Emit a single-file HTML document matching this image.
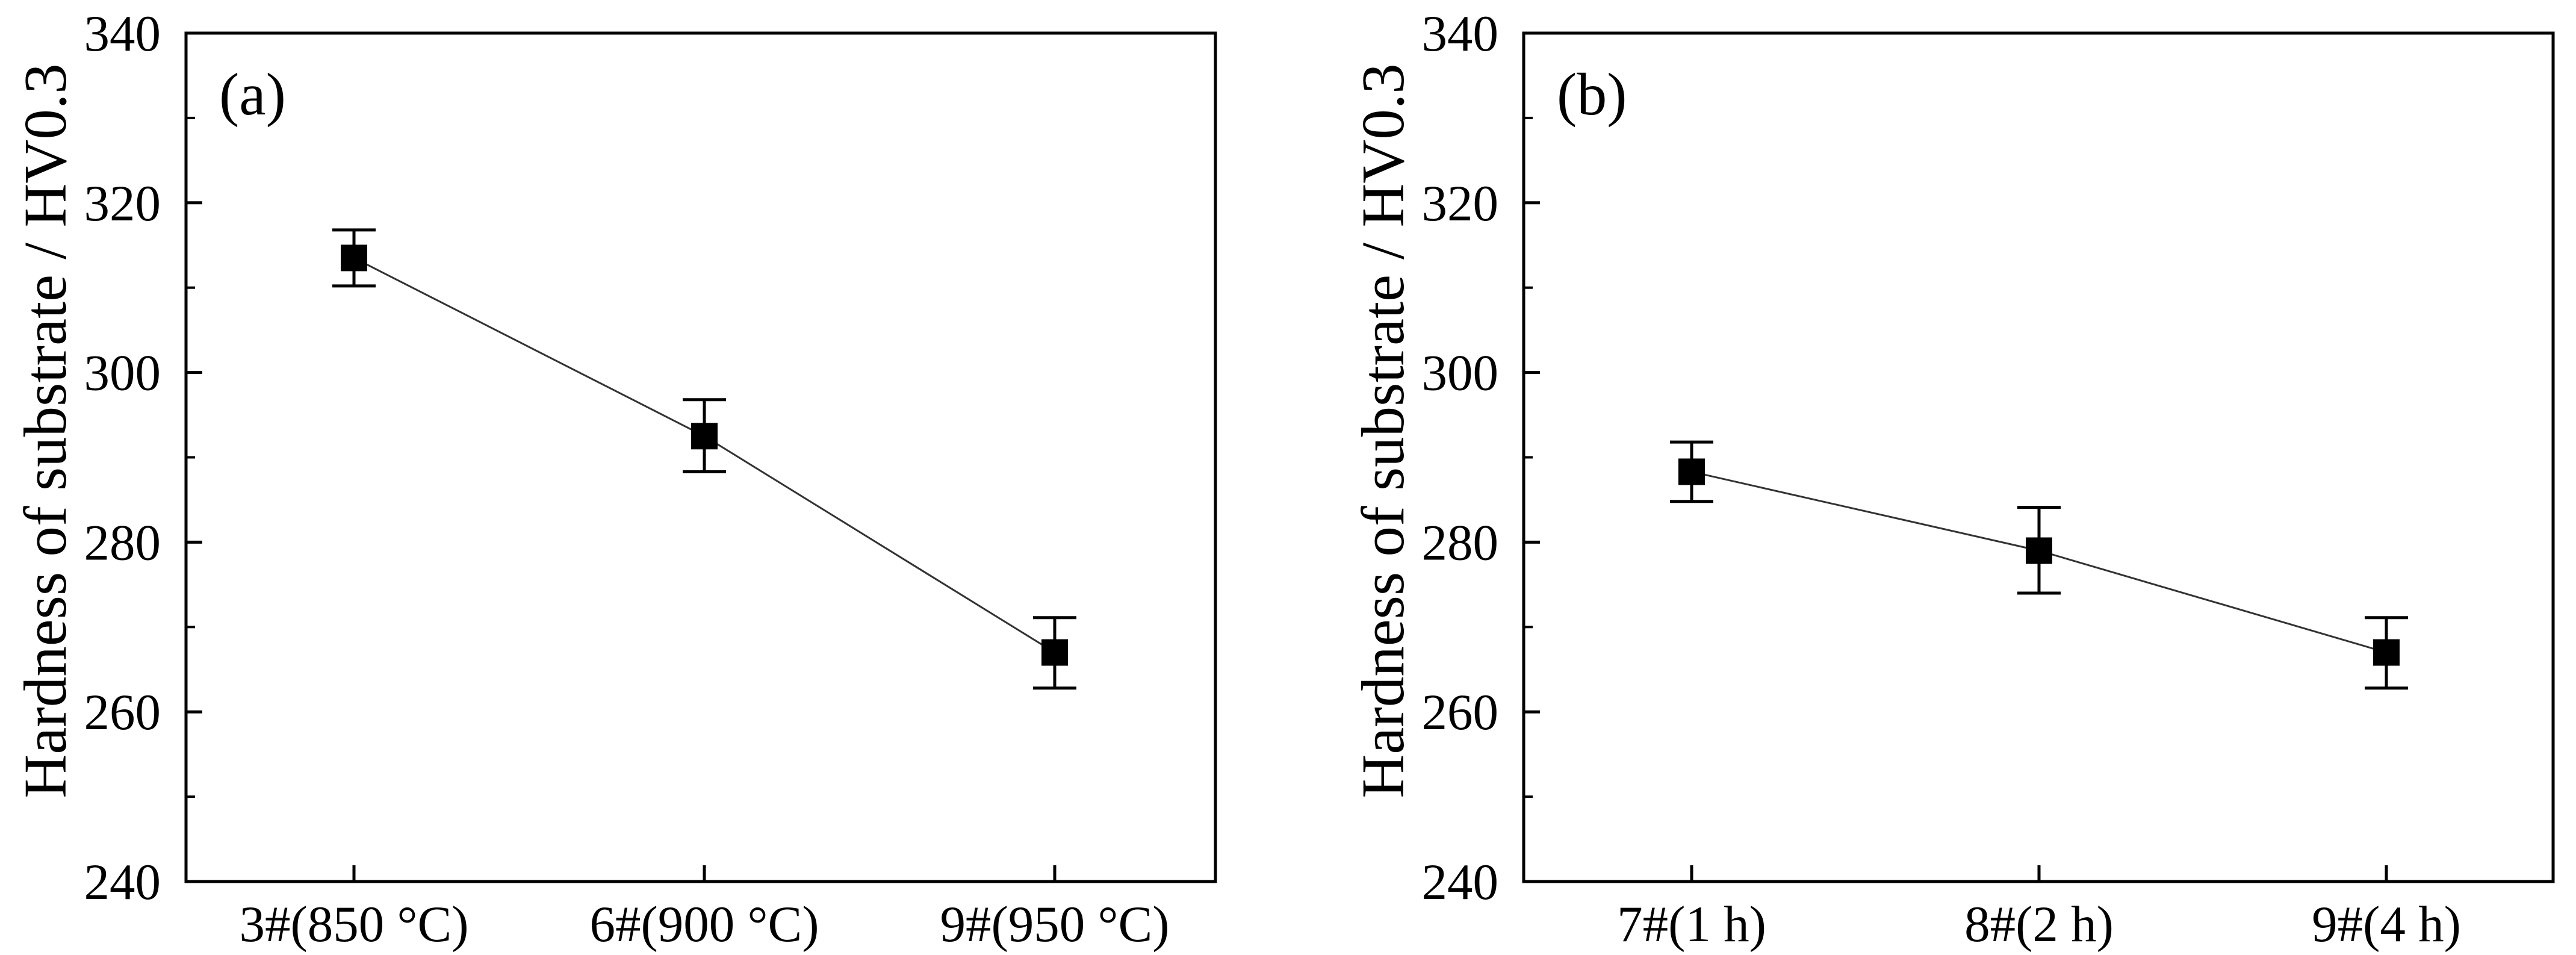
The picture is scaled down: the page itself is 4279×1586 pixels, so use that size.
<!DOCTYPE html>
<html><head><meta charset="utf-8"><style>
html,body{margin:0;padding:0;background:#fff;}
svg{display:block;}
text{font-family:"Liberation Serif","Times New Roman",serif;fill:#000;}
</style></head><body>
<svg id="chart" width="4279" height="1586" viewBox="0 0 4279 1586" xmlns="http://www.w3.org/2000/svg"></svg>
<script>
const yTicks = [240, 260, 280, 300, 320, 340];
const catsA = ["3#(850 °C)", "6#(900 °C)", "9#(950 °C)"];
const valsA = [313.5, 292.5, 267];
const errLowA = [310.2, 288.3, 262.8];
const errHighA = [316.8, 296.8, 271.1];
const catsB = ["7#(1 h)", "8#(2 h)", "9#(4 h)"];
const valsB = [288.3, 279, 267];
const errLowB = [284.8, 274.0, 262.8];
const errHighB = [291.8, 284.1, 271.1];

const NS = "http://www.w3.org/2000/svg";
const svgEl = document.getElementById("chart");
function el(tag, attrs, parent) {
  const e = document.createElementNS(NS, tag);
  for (const k in attrs) e.setAttribute(k, attrs[k]);
  (parent || svgEl).appendChild(e);
  return e;
}
const plotTop = 55, plotBottom = 1464, yMin = 240, yMax = 340;
function yScale(v) { return plotBottom - (v - yMin) / (yMax - yMin) * (plotBottom - plotTop); }

function panel(left, right, tickXs, cats, vals, lo, hi, letter, key) {
  const g = el("g", {});
  
  
  const xScale = i => tickXs[0] + i * (tickXs[1] - tickXs[0]);
  yTicks.forEach((t, i) => {
    const y = yScale(t);
    const tk = el("line", {x1: left, x2: left + 27, y1: y, y2: y, stroke: "#000", "stroke-width": 5}, g);
    
    
    const lb = el("text", {x: left - 42, y: y + 29, "font-size": 85, "text-anchor": "end"}, g);
    lb.textContent = t;
    
    
    if (i < yTicks.length - 1) {
      const ym = yScale(t + 10);
      const mt = el("line", {x1: left, x2: left + 15, y1: ym, y2: ym, stroke: "#000", "stroke-width": 4}, g);
      
      
    }
  });
  cats.forEach((c, i) => {
    const x = xScale(i);
    const tk = el("line", {x1: x, x2: x, y1: plotBottom, y2: plotBottom - 27, stroke: "#000", "stroke-width": 5}, g);
    
    
    const lb = el("text", {x: x, y: 1563, "font-size": 85, "text-anchor": "middle"}, g);
    lb.textContent = c;
    
    
  });
  const frame = el("rect", {x: left, y: plotTop, width: right - left, height: plotBottom - plotTop, fill: "none", stroke: "#000", "stroke-width": 5}, g);
  
  
  const ttl = el("text", {transform: "translate(" + (left - 200) + "," + ((plotTop + plotBottom) / 2 - 44) + ") rotate(-90)", "font-size": 101, "text-anchor": "middle"}, g);
  ttl.textContent = "Hardness of substrate / HV0.3";
  
  
  const lt = el("text", {x: left + 55, y: 190, "font-size": 100}, g);
  lt.textContent = letter;
  
  
  const pts = vals.map((v, i) => xScale(i) + "," + yScale(v)).join(" ");
  const line = el("polyline", {points: pts, fill: "none", stroke: "#333", "stroke-width": 3}, g);
  
  
  vals.forEach((v, i) => {
    const x = xScale(i);
    const eb = el("path", {d: "M" + (x - 36) + "," + yScale(hi[i]) + "H" + (x + 36) + "M" + x + "," + yScale(hi[i]) + "V" + yScale(lo[i]) + "M" + (x - 36) + "," + yScale(lo[i]) + "H" + (x + 36), stroke: "#000", "stroke-width": 5, fill: "none"}, g);
    
    
    const m = el("rect", {x: x - 22, y: yScale(v) - 22, width: 44, height: 44, fill: "#000"}, g);
    
    
  });
}
panel(309, 2019, [588, 1170], catsA, valsA, errLowA, errHighA, "(a)", "a");
panel(2531, 4241, [2810, 3387], catsB, valsB, errLowB, errHighB, "(b)", "b");
</script>
</body></html>
